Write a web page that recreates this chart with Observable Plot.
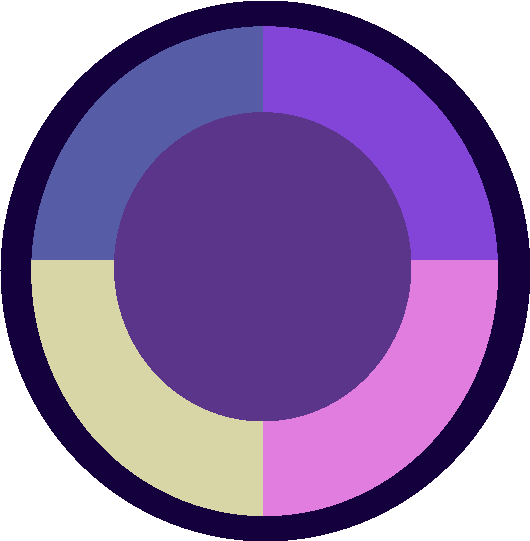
<!DOCTYPE html>
<html>
<head>
<meta charset="utf-8">
<script src="https://cdn.jsdelivr.net/npm/d3@7"></script>
<script src="https://cdn.jsdelivr.net/npm/@observablehq/plot@0.6"></script>
<style>
  html, body { margin: 0; padding: 0; background: #ffffff; }
  #chart svg { display: block; }
</style>
</head>
<body>
<div id="chart"></div>
<script>
// ---- data ----
const categories = ["A", "B", "C", "D"];
const values = [25, 25, 25, 25];
const colors = ["#8344d8", "#e17ddf", "#d8d6a6", "#565ca6"];

// ---- layout (pixels) ----
const W = 530, H = 541;
const frame = {cx: 265, cy: 270.5, rx: 265, ry: 270.5, color: "#13003d"};
const ring = {cx: 264.2, cy: 270.7, rx: 233.5, ry: 245};
const apex = {x: 262, y: 259};
const hole = {cx: 262.2, cy: 266.3, rx: 148.8, ry: 154.7, color: "#5a3589"};

function ellipsePts(e, id, n = 240) {
  return d3.range(n).map(i => {
    const t = (i / n) * 2 * Math.PI;
    return {id, x: e.cx + e.rx * Math.cos(t), y: e.cy + e.ry * Math.sin(t)};
  });
}

// distance from apex along angle (d3.pie convention) to the ring ellipse
function rayHit(theta) {
  const ux = Math.sin(theta) / ring.rx, uy = -Math.cos(theta) / ring.ry;
  const dx0 = (apex.x - ring.cx) / ring.rx, dy0 = (apex.y - ring.cy) / ring.ry;
  const a = ux * ux + uy * uy, b = 2 * (dx0 * ux + dy0 * uy), c = dx0 * dx0 + dy0 * dy0 - 1;
  const s = (-b + Math.sqrt(b * b - 4 * a * c)) / (2 * a);
  return {x: apex.x + s * Math.sin(theta), y: apex.y - s * Math.cos(theta)};
}

const arcs = d3.pie().sort(null)(values);
const slicePts = [];
arcs.forEach((arc, i) => {
  const cat = categories[i];
  slicePts.push({cat, x: apex.x, y: apex.y});
  const n = 90;
  for (let k = 0; k <= n; k++) {
    const th = arc.startAngle + (arc.endAngle - arc.startAngle) * k / n;
    const p = rayHit(th);
    slicePts.push({cat, x: p.x, y: p.y});
  }
});

const outerPts = ellipsePts(frame, "frame");
const holePts = ellipsePts(hole, "hole");

const chart = Plot.plot({
  width: W,
  height: H,
  margin: 0,
  x: {domain: [0, W], range: [0, W], axis: null},
  y: {domain: [0, H], range: [0, H], axis: null},
  color: {domain: categories, range: colors},
  style: {background: "#ffffff"},
  marks: [
    Plot.line(outerPts, {x: "x", y: "y", z: "id", fill: frame.color, stroke: "none", curve: "linear-closed", shapeRendering: "crispEdges"}),
    Plot.line(slicePts, {x: "x", y: "y", z: "cat", fill: "cat", stroke: "none", curve: "linear-closed", shapeRendering: "crispEdges"}),
    Plot.line(holePts, {x: "x", y: "y", z: "id", fill: hole.color, stroke: "none", curve: "linear-closed", shapeRendering: "crispEdges"})
  ]
});
document.getElementById("chart").append(chart);
</script>
</body>
</html>
